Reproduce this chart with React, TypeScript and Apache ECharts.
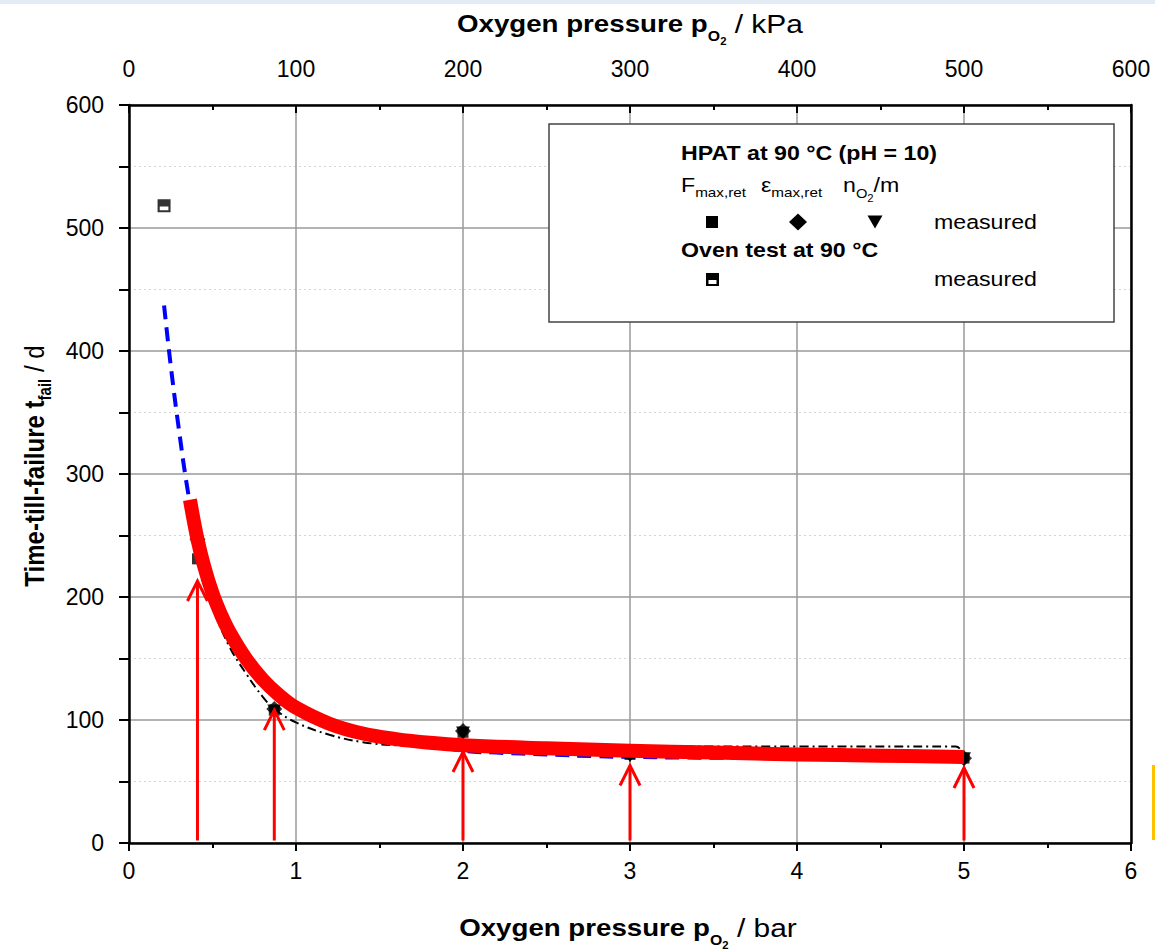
import React, { useEffect, useRef } from "react";
import * as echarts from "echarts";

// ---------- data ----------
const pressureBar = [0.41, 0.87, 2, 3, 5];
const fmaxDays = [231, 108, 90, 72, 69];
const epsDays = [247, 109, 91, 73, 69];
const nO2Days = [240, 107, 89, 71, 68];

const ovenBar = [0.21];
const ovenDays = [518];

const redFitX = [0.365, 0.41, 0.45, 0.5, 0.55, 0.6, 0.7, 0.8, 0.9, 1.0, 1.2, 1.4, 1.6, 1.8, 2.0, 2.5, 3.0, 3.5, 4.0, 4.5, 5.0];
const redFitY = [279, 247, 225, 203, 186, 172, 150, 133, 120, 110, 97, 89, 84.5, 81.5, 79.5, 77, 75, 73.5, 72, 71, 70];

const blueFitX = [0.21, 0.25, 0.3, 0.35, 0.4, 0.5, 0.6, 0.8, 1.0, 1.2, 1.5, 2.0, 2.2, 2.5, 2.8, 3.0, 3.3, 4.0, 5.0];
const blueFitY = [437, 388, 335, 288, 252, 202, 170, 131, 109, 96, 86, 75, 73.5, 72, 70.5, 70, 69.5, 69, 68.5];

const blackFitX = [0.41, 0.45, 0.5, 0.6, 0.7, 0.8, 0.87, 1.0, 1.2, 1.4, 1.6, 2.0, 3.0, 3.5, 4.0, 4.95, 5.0];
const blackFitY = [247, 218, 192, 160, 138, 119, 109, 98, 88, 82, 79.5, 78.5, 78.5, 78.5, 78.5, 78.5, 71];

const arrowX = [0.41, 0.87, 2, 3, 5];
const arrowTipY = [213, 108, 74, 63, 61];
const arrowBaseY = 2;

const FONT = "Liberation Sans";

const zip = (xs: number[], ys: number[]) => xs.map((x, i) => [x, ys[i]]);

type Part = { t: string; s: number; w?: string; dy?: number };

export default function App() {
  const ref = useRef<HTMLDivElement>(null);

  useEffect(() => {
    if (!ref.current) return;
    const chart = echarts.init(ref.current, undefined, { renderer: "svg" });

    const canvas = document.createElement("canvas");
    const ctx = canvas.getContext("2d")!;
    const tw = (text: string, size: number, weight: string) => {
      ctx.font = `${weight} ${size}px "${FONT}"`;
      return ctx.measureText(text).width;
    };

    const label = (
      parts: Part[],
      o: { x: number; y: number; align?: "left" | "center"; sx?: number; sy?: number; rot?: number }
    ) => {
      let cx = 0;
      const kids: any[] = [];
      for (const p of parts) {
        const w = p.w || "normal";
        const trimmed = p.t.replace(/^\s+/, "");
        const lead = p.t.length - trimmed.length;
        if (lead > 0) cx += tw(" ".repeat(lead), p.s, w);
        kids.push({
          type: "text",
          x: cx,
          y: p.dy || 0,
          z: 110,
          style: {
            text: trimmed,
            fontSize: p.s,
            fontWeight: w,
            fontFamily: FONT,
            fill: "#000",
            align: "left",
            verticalAlign: "middle",
          },
        });
        cx += tw(trimmed, p.s, w);
      }
      const off = o.align === "center" ? -cx / 2 : 0;
      kids.forEach((k) => (k.x += off));
      return {
        type: "group",
        x: o.x,
        y: o.y,
        scaleX: o.sx ?? 1,
        scaleY: o.sy ?? 1,
        rotation: o.rot ?? 0,
        z: 110,
        children: kids,
      };
    };

    const SX = 1.13;

    const graphics: any[] = [
      { type: "rect", z: 100, shape: { x: 0, y: 0, width: 1155, height: 4 }, style: { fill: "#e3ecf5" } },
      { type: "rect", z: 100, shape: { x: 1152, y: 765, width: 3, height: 75 }, style: { fill: "#ffc000" } },
      // axis titles
      label(
        [
          { t: "Oxygen pressure p", s: 24.5, w: "bold" },
          { t: "O", s: 14, w: "bold", dy: 12 },
          { t: "2", s: 10, w: "bold", dy: 17 },
          { t: " / kPa", s: 26.5, w: "normal" },
        ],
        { x: 630, y: 24, align: "center", sx: SX }
      ),
      label(
        [
          { t: "Oxygen pressure p", s: 24.5, w: "bold" },
          { t: "O", s: 14, w: "bold", dy: 12 },
          { t: "2", s: 10, w: "bold", dy: 17 },
          { t: " / bar", s: 26.5, w: "normal" },
        ],
        { x: 628, y: 928, align: "center", sx: SX }
      ),
      label(
        [
          { t: "Time-till-failure t", s: 24, w: "bold" },
          { t: "fail", s: 15, w: "bold", dy: 9 },
          { t: " / d", s: 24, w: "normal" },
        ],
        { x: 34, y: 466, align: "center", sy: 1.18, rot: Math.PI / 2 }
      ),
      // legend box
      {
        type: "rect",
        z: 99,
        shape: { x: 549, y: 124, width: 565, height: 198 },
        style: { fill: "#fff", stroke: "#444", lineWidth: 1.5 },
      },
      label([{ t: "HPAT at 90 °C (pH = 10)", s: 20.5, w: "bold" }], { x: 681, y: 153, sx: SX }),
      label(
        [
          { t: "F", s: 20.5 },
          { t: "max,ret", s: 13.5, dy: 7 },
        ],
        { x: 681, y: 185, sx: SX }
      ),
      label(
        [
          { t: "ε", s: 20.5 },
          { t: "max,ret", s: 13.5, dy: 7 },
        ],
        { x: 761, y: 185, sx: SX }
      ),
      label(
        [
          { t: "n", s: 20.5 },
          { t: "O", s: 13, dy: 8 },
          { t: "2", s: 10, dy: 13 },
          { t: "/m", s: 20.5 },
        ],
        { x: 843, y: 185, sx: SX }
      ),
      { type: "rect", z: 110, shape: { x: 706, y: 216, width: 12, height: 12 }, style: { fill: "#000" } },
      {
        type: "polygon",
        z: 110,
        shape: { points: [[798, 213.5], [807, 222], [798, 230.5], [789, 222]] },
        style: { fill: "#000" },
      },
      {
        type: "polygon",
        z: 110,
        shape: { points: [[867.5, 215.5], [882.5, 215.5], [875, 228.5]] },
        style: { fill: "#000" },
      },
      label([{ t: "measured", s: 20.5 }], { x: 934, y: 222, sx: SX }),
      label([{ t: "Oven test at 90 °C", s: 20.5, w: "bold" }], { x: 681, y: 250, sx: SX }),
      { type: "rect", z: 110, shape: { x: 706, y: 273, width: 13, height: 13 }, style: { fill: "#000" } },
      { type: "rect", z: 111, shape: { x: 708.5, y: 280, width: 8, height: 4 }, style: { fill: "#fff" } },
      label([{ t: "measured", s: 20.5 }], { x: 934, y: 279, sx: SX }),
    ];

    const axisLineStyle = { color: "#000", width: 2.5 };
    const labelStyle = { fontSize: 23, color: "#000", fontFamily: FONT };

    const option: any = {
      animation: false,
      backgroundColor: "#fff",
      grid: { left: 129, right: 24, top: 105, bottom: 108, outerBoundsMode: "none" },
      xAxis: [
        {
          type: "value",
          position: "bottom",
          min: 0,
          max: 6,
          interval: 1,
          axisLine: { show: true, onZero: false, lineStyle: axisLineStyle },
          axisTick: { show: true, inside: false, length: 8, lineStyle: { color: "#000", width: 2 } },
          minorTick: { show: true, splitNumber: 2, length: 5, lineStyle: { color: "#000", width: 2 } },
          axisLabel: { ...labelStyle, margin: 16 },
          splitLine: { show: true, lineStyle: { color: "#9a9a9a", width: 1.5 } },
        },
        {
          type: "value",
          position: "top",
          min: 0,
          max: 600,
          interval: 100,
          axisLine: { show: true, onZero: false, lineStyle: axisLineStyle },
          axisTick: { show: true, inside: true, length: 8, lineStyle: { color: "#000", width: 2 } },
          minorTick: { show: true, splitNumber: 2, length: 5, lineStyle: { color: "#000", width: 2 } },
          axisLabel: { ...labelStyle, margin: 25 },
          splitLine: { show: false },
        },
      ],
      yAxis: [
        {
          type: "value",
          position: "left",
          min: 0,
          max: 600,
          interval: 100,
          axisLine: { show: true, onZero: false, lineStyle: axisLineStyle },
          axisTick: { show: true, inside: false, length: 10, lineStyle: { color: "#000", width: 2 } },
          minorTick: { show: true, splitNumber: 2, length: 10, lineStyle: { color: "#000", width: 2 } },
          axisLabel: { ...labelStyle, margin: 25 },
          splitLine: { show: true, lineStyle: { color: "#9a9a9a", width: 1.5 } },
          minorSplitLine: { show: true, lineStyle: { color: "#d4d4d4", width: 1, type: [2, 3] } },
        },
        {
          type: "value",
          position: "right",
          min: 0,
          max: 600,
          interval: 100,
          axisLine: { show: true, onZero: false, lineStyle: axisLineStyle },
          axisTick: { show: false },
          axisLabel: { show: false },
          splitLine: { show: false },
        },
      ],
      series: [
        {
          type: "line",
          name: "blue fit",
          data: zip(blueFitX, blueFitY),
          smooth: 0.4,
          symbol: "none",
          z: 2,
          lineStyle: { color: "#0000ff", width: 4, type: [14, 8] },
        },
        {
          type: "line",
          name: "black fit",
          data: zip(blackFitX, blackFitY),
          smooth: 0.4,
          symbol: "none",
          z: 3,
          lineStyle: { color: "#000", width: 2, type: [9, 4, 2, 4] },
        },
        {
          type: "scatter",
          name: "Fmax,ret",
          data: zip(pressureBar, fmaxDays),
          symbol: "rect",
          symbolSize: 11,
          z: 4,
          itemStyle: { color: "#000" },
        },
        {
          type: "scatter",
          name: "εmax,ret",
          data: zip(pressureBar, epsDays),
          symbol: "diamond",
          symbolSize: 16,
          z: 4,
          itemStyle: { color: "#000" },
        },
        {
          type: "scatter",
          name: "nO2/m",
          data: zip(pressureBar, nO2Days),
          symbol: "triangle",
          symbolRotate: 180,
          symbolSize: 14,
          z: 4,
          itemStyle: { color: "#000" },
        },
        {
          type: "scatter",
          name: "Oven test",
          data: zip(ovenBar, ovenDays),
          symbol: "path://M0,0H12V12H0Z M2,6.5V10H10V6.5Z",
          symbolSize: [13, 13],
          z: 4,
          itemStyle: { color: "#000" },
        },
        {
          type: "line",
          name: "red fit",
          data: zip(redFitX, redFitY),
          smooth: 0.4,
          symbol: "none",
          z: 5,
          lineStyle: { color: "#ff0000", width: 14, cap: "butt", join: "round" },
        },
        {
          type: "custom",
          name: "arrows",
          z: 6,
          encode: { x: 0, y: [1, 2] },
          data: arrowX.map((x, i) => [x, arrowBaseY, arrowTipY[i]]),
          renderItem: (_params: any, api: any) => {
            const x = api.value(0);
            const b = api.coord([x, api.value(1)]);
            const t = api.coord([x, api.value(2)]);
            return {
              type: "group",
              children: [
                {
                  type: "line",
                  shape: { x1: b[0], y1: b[1], x2: t[0], y2: t[1] },
                  style: { stroke: "#ff0000", lineWidth: 3 },
                },
                {
                  type: "polyline",
                  shape: {
                    points: [
                      [t[0] - 10, t[1] + 20],
                      [t[0], t[1]],
                      [t[0] + 10, t[1] + 20],
                    ],
                  },
                  style: { stroke: "#ff0000", lineWidth: 3, fill: "none" },
                },
              ],
            };
          },
        },
      ],
      graphic: graphics,
    };

    chart.setOption(option);
    return () => chart.dispose();
  }, []);

  return (
    <div
      ref={ref}
      style={{ position: "absolute", left: 0, top: 0, width: 1155, height: 951, background: "#fff" }}
    />
  );
}
